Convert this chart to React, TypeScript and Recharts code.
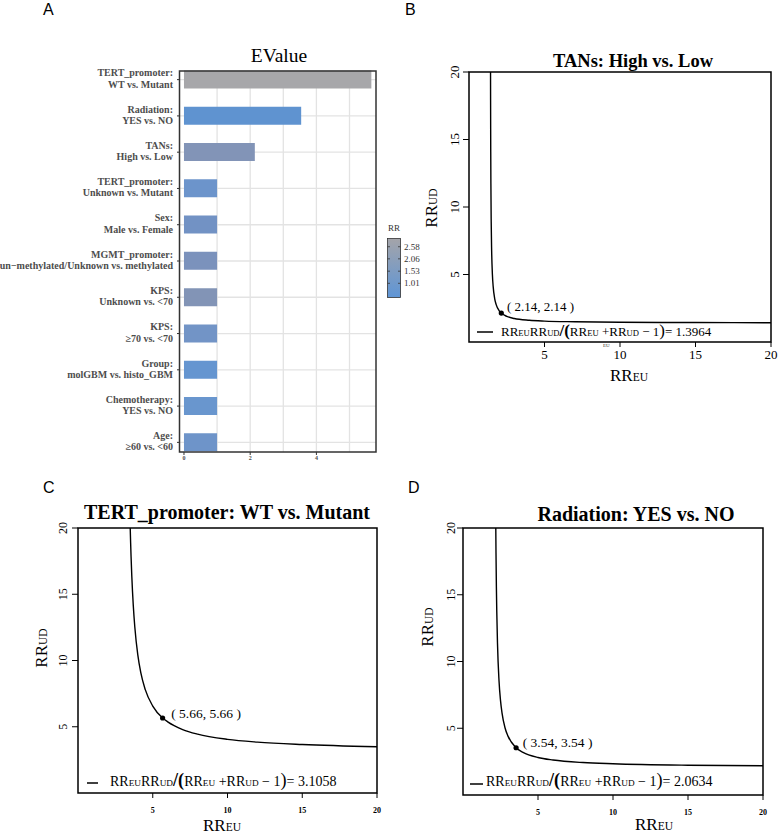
import React from 'react';
import {
  BarChart,
  Bar,
  Cell,
  XAxis,
  YAxis,
  ReferenceLine,
  LineChart,
  Line,
  ReferenceArea,
  ReferenceDot,
} from 'recharts';

const SERIF = "'Liberation Serif', 'Times New Roman', Times, serif";
const SANS = "'Liberation Sans', Arial, Helvetica, sans-serif";

// Panel A: E-values per covariate
const evalueCategories = [
  'TERT_promoter:\nWT vs. Mutant',
  'Radiation:\nYES vs. NO',
  'TANs:\nHigh vs. Low',
  'TERT_promoter:\nUnknown vs. Mutant',
  'Sex:\nMale vs. Female',
  'MGMT_promoter:\nun\u2212methylated/Unknown vs. methylated',
  'KPS:\nUnknown vs. <70',
  'KPS:\n\u226570 vs. <70',
  'Group:\nmolGBM vs. histo_GBM',
  'Chemotherapy:\nYES vs. NO',
  'Age:\n\u226560 vs. <60',
];
const evalueValues = [5.66, 3.54, 2.14, 1, 1, 1, 1, 1, 1, 1, 1];
const rrFill = [
  '#a7a7aa', '#5f93d0', '#8294b7', '#6c94cb', '#7292c4', '#7b92bc',
  '#8294b6', '#7294c6', '#6595d0', '#6996ce', '#6e94c9',
];
const evalueTicks = [0, 2, 4];
const evalueGridValues = [1, 2, 3, 4, 5];
const rrLegendValues = [2.58, 2.06, 1.53, 1.01];

// Panels B-D: bias-factor curves (RR_EU, RR_UD)
const rrTicks = [5, 10, 15, 20];

const tansRREU = [1.426, 1.43, 1.435, 1.44, 1.45, 1.47, 1.5, 1.55, 1.6, 1.7, 1.8, 2.0, 2.14, 2.5, 3, 4, 5, 7, 10, 15, 20];
const tansRRUD = [20.0, 17.87, 15.74, 14.09, 11.72, 8.92, 6.74, 5.0, 4.12, 3.22, 2.77, 2.31, 2.14, 1.9, 1.74, 1.61, 1.55, 1.5, 1.46, 1.44, 1.43];
const tansPoint = [2.14, 2.14];
const tansBias = '1.3964';

const tertRREU = [3.493, 3.52, 3.55, 3.6, 3.7, 3.8, 4, 4.2, 4.5, 5, 5.66, 6, 7, 8, 10, 12, 15, 20];
const tertRRUD = [20.0, 18.9, 17.83, 16.34, 14.11, 12.53, 10.42, 9.08, 7.8, 6.56, 5.66, 5.37, 4.79, 4.44, 4.05, 3.84, 3.66, 3.49];
const tertPoint = [5.66, 5.66];
const tertBias = '3.1058';

const radRREU = [2.186, 2.2, 2.225, 2.25, 2.3, 2.4, 2.5, 2.6, 2.8, 3, 3.54, 4, 5, 6, 8, 10, 15, 20];
const radRRUD = [20.0, 18.13, 15.64, 13.82, 11.34, 8.58, 7.09, 6.15, 5.04, 4.41, 3.54, 3.2, 2.81, 2.62, 2.43, 2.34, 2.23, 2.19];
const radPoint = [3.54, 3.54];
const radBias = '2.0634';

const CategoryTick = (props: any) => {
  const { x, y, payload } = props;
  const [l1, l2] = String(payload.value).split('\n');
  return (
    <text
      x={x}
      y={y}
      textAnchor="end"
      fontFamily={SERIF}
      fontWeight="bold"
      fontSize={10}
      fill="#4d4d4d"
    >
      <tspan x={x} dy={-3.3}>{l1}</tspan>
      <tspan x={x} dy={11.3}>{l2}</tspan>
    </text>
  );
};

const RotatedTick = (props: any) => {
  const { x, y, payload, size } = props;
  return (
    <text
      x={x}
      y={y}
      transform={`rotate(-90 ${x} ${y})`}
      textAnchor="middle"
      fontFamily={SERIF}
      fontSize={size}
      fill="#000"
    >
      {payload.value}
    </text>
  );
};

const evalueData = evalueCategories.map((name, i) => ({ name, value: evalueValues[i] }));
const barMargin = { top: 71, right: 14, bottom: 4, left: 0 };

// shared axes for the bar chart and its grid layer
function evalueAxes(showTicks: boolean) {
  return [
    <XAxis
      key="x"
      type="number"
      domain={[-0.12, 5.8]}
      allowDataOverflow
      ticks={evalueTicks}
      interval={0}
      axisLine={false}
      tickSize={3}
      tickMargin={1}
      height={14}
      tickLine={showTicks ? { stroke: '#333' } : false}
      tick={
        showTicks
          ? { fontFamily: SERIF, fontSize: 6, fontWeight: 'bold', fill: '#4d4d4d' }
          : false
      }
    />,
    <YAxis
      key="y"
      type="category"
      dataKey="name"
      width={180}
      axisLine={false}
      tickSize={3}
      tickMargin={4}
      interval={0}
      padding={{ top: -9.5, bottom: -8.5 }}
      tickLine={showTicks ? { stroke: '#333' } : false}
      tick={showTicks ? <CategoryTick /> : false}
    />,
  ];
}

function EValuePanel() {
  return (
    <>
      {/* grid layer underneath the bars */}
      <div style={{ position: 'absolute', left: 0, top: 0 }}>
        <BarChart width={390} height={470} data={evalueData} layout="vertical" margin={barMargin}>
          {evalueAxes(false)}
          <Bar dataKey="value" barSize={18} fill="none" fillOpacity={0} isAnimationActive={false} />
          {evalueGridValues.map((v) => (
            <ReferenceLine key={`gx${v}`} x={v} stroke="#e3e3e3" strokeWidth={1.3} />
          ))}
          {evalueCategories.map((c) => (
            <ReferenceLine key={`gy${c}`} y={c} stroke="#e3e3e3" strokeWidth={1.3} />
          ))}
        </BarChart>
      </div>
      <div style={{ position: 'absolute', left: 0, top: 0 }}>
        <BarChart width={390} height={470} data={evalueData} layout="vertical" margin={barMargin}>
          {evalueAxes(true)}
          <Bar dataKey="value" barSize={18} isAnimationActive={false}>
            {evalueData.map((d, i) => (
              <Cell key={d.name} fill={rrFill[i]} />
            ))}
          </Bar>
        </BarChart>
      </div>
    </>
  );
}

interface CurveProps {
  left: number;
  top: number;
  width: number;
  height: number;
  margin: { top: number; right: number; bottom: number; left: number };
  yAxisWidth: number;
  rrEU: number[];
  rrUD: number[];
  point: number[];
  xTickFont: number;
  xTickBold: boolean;
  xTickMargin: number;
  yTickFont: number;
  yTickMargin: number;
  labelOffset: number;
  labelDy: number;
  labelFont: number;
}

function CurvePanel(p: CurveProps) {
  const data = p.rrEU.map((x, i) => ({ x, y: p.rrUD[i] }));
  return (
    <div style={{ position: 'absolute', left: p.left, top: p.top }}>
      <LineChart width={p.width} height={p.height} data={data} margin={p.margin}>
        <XAxis
          type="number"
          dataKey="x"
          domain={[0, 20]}
          ticks={rrTicks}
          interval={0}
          allowDataOverflow
          axisLine={false}
          tickSize={5}
          tickMargin={p.xTickMargin}
          height={30}
          tickLine={{ stroke: '#000' }}
          tick={{
            fontFamily: SERIF,
            fontSize: p.xTickFont,
            fontWeight: p.xTickBold ? 'bold' : 'normal',
            fill: '#000',
          }}
        />
        <YAxis
          type="number"
          domain={[0, 20]}
          ticks={rrTicks}
          interval={0}
          allowDataOverflow
          axisLine={false}
          width={p.yAxisWidth}
          tickSize={6}
          tickMargin={p.yTickMargin}
          tickLine={{ stroke: '#000' }}
          tick={(t: any) => <RotatedTick {...t} size={p.yTickFont} />}
        />
        <ReferenceArea
          x1={0}
          x2={20}
          y1={0}
          y2={20}
          fill="none"
          fillOpacity={0}
          stroke="#000"
          strokeWidth={1.5}
        />
        <Line
          dataKey="y"
          type="monotone"
          stroke="#000"
          strokeWidth={1.4}
          dot={false}
          isAnimationActive={false}
        />
        <ReferenceDot
          x={p.point[0]}
          y={p.point[1]}
          r={2.6}
          fill="#000"
          stroke="none"
          label={{
            value: `( ${p.point[0].toFixed(2)}, ${p.point[1].toFixed(2)} )`,
            position: 'right',
            offset: p.labelOffset,
            dy: p.labelDy,
            fontFamily: SERIF,
            fontSize: p.labelFont,
            fill: '#000',
          }}
        />
      </LineChart>
    </div>
  );
}

function Formula({ x, y, size, value }: { x: number; y: number; size: number; value: string }) {
  const sub = size * 0.66;
  const big = size * 1.3;
  return (
    <text x={x} y={y} fontFamily={SERIF} fontSize={size} fill="#000">
      RR<tspan fontSize={sub}>EU</tspan>RR<tspan fontSize={sub}>UD</tspan>
      <tspan fontSize={big} fontWeight="bold">/(</tspan>RR<tspan fontSize={sub}>EU</tspan>
      {' +RR'}
      <tspan fontSize={sub}>UD</tspan>
      {' \u2212 1'}
      <tspan fontSize={big}>)</tspan>
      {'= ' + value}
    </text>
  );
}

function AxisTitle({ x, y, sub, rotate }: { x: number; y: number; sub: string; rotate?: boolean }) {
  return (
    <text
      x={x}
      y={y}
      textAnchor="middle"
      transform={rotate ? `rotate(-90 ${x} ${y})` : undefined}
      fontFamily={SERIF}
      fontSize={17}
      fill="#000"
    >
      RR<tspan fontSize={11.5}>{sub}</tspan>
    </text>
  );
}

function Overlay() {
  const barTop = 238.5;
  const barBottom = 297.5;
  const legendY = (v: number) => 283.3 - (v - 1.01) * 23.3;
  return (
    <svg
      width={778}
      height={834}
      style={{ position: 'absolute', left: 0, top: 0, pointerEvents: 'none' }}
    >
      <defs>
        <linearGradient id="rrGrad" x1="0" y1="0" x2="0" y2="1">
          <stop offset="0%" stopColor="#a4a4a9" />
          <stop offset="100%" stopColor="#5e95d6" />
        </linearGradient>
      </defs>

      {/* panel letters */}
      <g fontFamily={SANS} fontSize={16} fill="#000">
        <text x={43} y={15}>A</text>
        <text x={405} y={15}>B</text>
        <text x={43} y={493}>C</text>
        <text x={408} y={493}>D</text>
      </g>

      {/* panel A */}
      <text x={279} y={62} textAnchor="middle" fontFamily={SERIF} fontSize={19.5} fill="#000">
        EValue
      </text>
      <rect x={179.5} y={71} width={196.5} height={381} fill="none" stroke="#333" strokeWidth={1.5} />
      <text x={394} y={230.5} textAnchor="middle" fontFamily={SERIF} fontSize={9} fill="#333">
        RR
      </text>
      <rect
        x={387.5}
        y={barTop}
        width={13}
        height={barBottom - barTop}
        fill="url(#rrGrad)"
        stroke="#333"
        strokeWidth={0.8}
      />
      {rrLegendValues.map((v) => (
        <g key={v}>
          <line x1={387.5} x2={390} y1={legendY(v)} y2={legendY(v)} stroke="#333" strokeWidth={0.8} />
          <line x1={398} x2={400.5} y1={legendY(v)} y2={legendY(v)} stroke="#333" strokeWidth={0.8} />
          <text x={404} y={legendY(v) + 3} fontFamily={SERIF} fontSize={9} fill="#333">
            {v.toFixed(2)}
          </text>
        </g>
      ))}

      {/* panel B */}
      <text x={633} y={67} textAnchor="middle" fontFamily={SERIF} fontWeight="bold" fontSize={18.5} fill="#000">
        TANs: High vs. Low
      </text>
      <AxisTitle x={629} y={381} sub="EU" />
      <AxisTitle x={437} y={208} sub="UD" rotate />
      <line x1={477} x2={493} y1={332} y2={332} stroke="#000" strokeWidth={1.5} />
      <Formula x={501} y={336} size={13} value={tansBias} />
      <text x={603} y={347} fontFamily={SERIF} fontSize={5} fill="#333">EU</text>

      {/* panel C */}
      <text x={227} y={519} textAnchor="middle" fontFamily={SERIF} fontWeight="bold" fontSize={20} fill="#000">
        TERT_promoter: WT vs. Mutant
      </text>
      <AxisTitle x={222} y={831} sub="EU" />
      <AxisTitle x={47} y={648} sub="UD" rotate />
      <line x1={87} x2={98} y1={783} y2={783} stroke="#000" strokeWidth={1.5} />
      <Formula x={110} y={786} size={14} value={tertBias} />

      {/* panel D */}
      <text x={636} y={521} textAnchor="middle" fontFamily={SERIF} fontWeight="bold" fontSize={20} fill="#000">
        Radiation: YES vs. NO
      </text>
      <AxisTitle x={654} y={830} sub="EU" />
      <AxisTitle x={433} y={627} sub="UD" rotate />
      <line x1={470} x2={483} y1={784} y2={784} stroke="#000" strokeWidth={1.5} />
      <Formula x={486} y={786} size={14} value={radBias} />
    </svg>
  );
}

export default function App() {
  return (
    <div
      style={{
        position: 'absolute',
        left: 0,
        top: 0,
        width: 778,
        height: 834,
        background: '#fff',
        overflow: 'hidden',
      }}
    >
      <EValuePanel />
      <CurvePanel
        left={390}
        top={0}
        width={388}
        height={400}
        margin={{ top: 72, right: 7, bottom: 28, left: 0 }}
        yAxisWidth={79}
        rrEU={tansRREU}
        rrUD={tansRRUD}
        point={tansPoint}
        xTickFont={13}
        xTickBold={false}
        xTickMargin={3}
        yTickFont={13}
        yTickMargin={4}
        labelOffset={3}
        labelDy={-7}
        labelFont={13}
      />
      <CurvePanel
        left={0}
        top={480}
        width={390}
        height={354}
        margin={{ top: 48, right: 13, bottom: 11, left: 0 }}
        yAxisWidth={78}
        rrEU={tertRREU}
        rrUD={tertRRUD}
        point={tertPoint}
        xTickFont={8}
        xTickBold
        xTickMargin={9}
        yTickFont={12}
        yTickMargin={5}
        labelOffset={6}
        labelDy={-5}
        labelFont={13.5}
      />
      <CurvePanel
        left={390}
        top={480}
        width={388}
        height={354}
        margin={{ top: 48, right: 15, bottom: 9, left: 0 }}
        yAxisWidth={73}
        rrEU={radRREU}
        rrUD={radRRUD}
        point={radPoint}
        xTickFont={8}
        xTickBold
        xTickMargin={9}
        yTickFont={12}
        yTickMargin={2}
        labelOffset={4}
        labelDy={-6}
        labelFont={13.5}
      />
      <Overlay />
    </div>
  );
}
